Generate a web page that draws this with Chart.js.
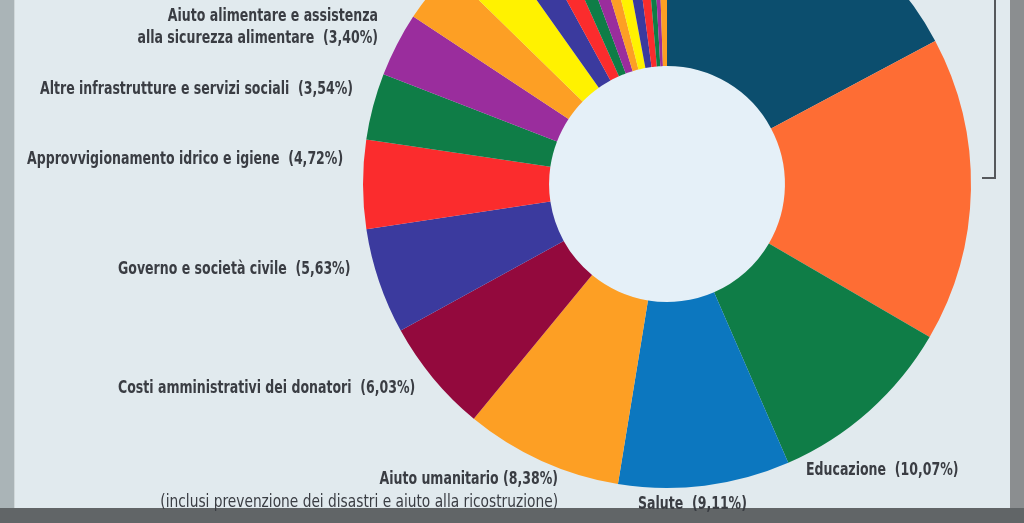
<!DOCTYPE html>
<html>
<head>
<meta charset="utf-8">
<script src="https://cdn.jsdelivr.net/npm/chart.js@4/dist/chart.umd.min.js"></script>
<style>
  html, body { margin: 0; padding: 0; }
  body { width: 1024px; height: 523px; overflow: hidden; position: relative; background: #e1eaee; }
  .frame-left { position: absolute; left: 0; top: 0; width: 14px; height: 523px; background: #aab4b7; border-right: 1px solid #d0d8da; }
  .frame-right { position: absolute; right: 0; top: 0; width: 14px; height: 523px; background: #8b8e90; }
  .frame-bottom { position: absolute; left: 0; bottom: 0; width: 1024px; height: 15px; background: #616567; }
  .bracket { position: absolute; left: 982px; top: 0; width: 12px; height: 177px; border-right: 2px solid #55585c; border-bottom: 2px solid #55585c; }
  #wrap { position: absolute; left: 0; top: -120px; width: 1024px; height: 643px; }
</style>
</head>
<body>
<div class="frame-left"></div>
<div class="frame-right"></div>
<div class="frame-bottom"></div>
<div class="bracket"></div>
<div id="wrap"><canvas id="chart" width="1024" height="643"></canvas></div>
<script>
// sectors clockwise from 12 o'clock; null = label not visible in the crop
const sectors = [
    null, null,
    'Educazione', 'Salute', 'Aiuto umanitario',
    'Costi amministrativi dei donatori', 'Governo e società civile',
    'Approvvigionamento idrico e igiene', 'Altre infrastrutture e servizi sociali',
    'Aiuto alimentare e assistenza\nalla sicurezza alimentare',
    null, null, null, null, null, null, null, null, null, null, null, null, null
];
const shares = [
    17.2, 16.2,
    10.07, 9.11, 8.38,
    6.03, 5.63,
    4.72, 3.54,
    3.40,
    3.04, 2.87, 1.85, 1.28, 0.99, 0.99, 0.81, 0.96, 0.84, 0.72, 0.47, 0.35, 0.55
];
const notes = { 4: '(inclusi prevenzione dei disastri e aiuto alla ricostruzione)' };

const colors = [
    '#0c4e6e', '#fe6d34',
    '#0f7d47', '#0c77bf', '#fd9f24',
    '#93093d', '#3b3a9e',
    '#fb2c2d', '#0f7d47',
    '#9a2d9d',
    '#fd9f24', '#fff200', '#3b3a9e', '#fb2c2d', '#0f7d47', '#9a2d9d',
    '#fd9f24', '#fff200', '#3b3a9e', '#fb2c2d', '#0f7d47', '#9a2d9d', '#fd9f24'
];

// label placement, page coordinates (canvas is shifted up by 120px)
const SHIFT = 120;
const labelPos = {
    2: { x: 806, y: 471, align: 'left' },
    3: { x: 638, y: 505, align: 'left' },
    4: { x: 558, y: 480, align: 'right', noteY: 503, noteSqueeze: 0.9 },
    5: { x: 118, y: 389, align: 'left' },
    6: { x: 118, y: 270, align: 'left' },
    7: { x: 27, y: 160, align: 'left' },
    8: { x: 40, y: 90, align: 'left' },
    9: { x: 378, y: 17, align: 'right', lineGap: 22 }
};
const TEXT_SQUEEZE = 0.82; // the print face is a condensed DIN-like font
const FONT = '17px "Liberation Sans Narrow", "DejaVu Sans Condensed", sans-serif';

const pct = v => v.toFixed(2).replace('.', ',') + '%';

const holeFill = {
    id: 'holeFill',
    beforeDatasetsDraw(chart) {
        const arc = chart.getDatasetMeta(0).data[0];
        if (!arc) return;
        const ctx = chart.ctx;
        ctx.save();
        ctx.fillStyle = '#e5f0f8';
        ctx.beginPath();
        ctx.arc(arc.x, arc.y, arc.innerRadius, 0, Math.PI * 2);
        ctx.fill();
        ctx.restore();
    }
};

function squeezedText(ctx, text, x, y, align, sx) {
    ctx.save();
    ctx.translate(x, y);
    ctx.scale(sx || TEXT_SQUEEZE, 1);
    ctx.textAlign = align;
    ctx.fillText(text, 0, 0);
    ctx.restore();
}

const sectorLabels = {
    id: 'sectorLabels',
    afterDraw(chart) {
        const ctx = chart.ctx;
        ctx.save();
        ctx.fillStyle = '#3a3d43';
        ctx.textBaseline = 'middle';
        sectors.forEach((name, i) => {
            const p = labelPos[i];
            if (!name || !p) return;
            ctx.font = 'bold ' + FONT;
            const suffix = i === 4 ? ' (' + pct(shares[i]) + ')' : '  (' + pct(shares[i]) + ')';
            const lines = (name + suffix).split('\n');
            lines.forEach((ln, k) => squeezedText(ctx, ln, p.x, p.y + SHIFT + k * (p.lineGap || 20), p.align));
            if (notes[i]) {
                ctx.font = FONT;
                squeezedText(ctx, notes[i], p.x, p.noteY + SHIFT, p.align, p.noteSqueeze);
            }
        });
        ctx.restore();
    }
};

new Chart(document.getElementById('chart').getContext('2d'), {
    type: 'doughnut',
    data: {
        labels: sectors.map((s, i) => s || ('settore ' + (i + 1))),
        datasets: [{
            data: shares,
            backgroundColor: colors,
            borderWidth: 0
        }]
    },
    options: {
        responsive: false,
        animation: false,
        cutout: '38.8%',
        layout: { padding: { left: 363, right: 53, top: 0, bottom: 35 } },
        plugins: {
            legend: { display: false },
            tooltip: { enabled: false }
        }
    },
    plugins: [holeFill, sectorLabels]
});
</script>
</body>
</html>
